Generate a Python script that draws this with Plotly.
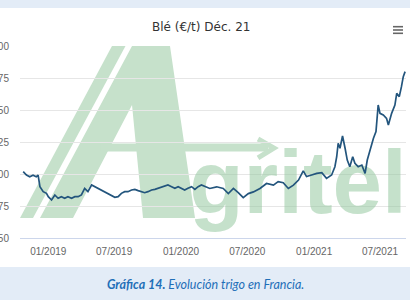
import plotly.graph_objects as go
import pandas as pd

# ---------------- data ----------------
dates = [
    "2018-10-24", "2018-11-02", "2018-11-11", "2018-11-20", "2018-11-29", "2018-12-04",
    "2018-12-09", "2018-12-18", "2018-12-27", "2019-01-01", "2019-01-10", "2019-01-19",
    "2019-01-28", "2019-02-06", "2019-02-15", "2019-02-24", "2019-03-06", "2019-03-15",
    "2019-03-24", "2019-04-02", "2019-04-11", "2019-04-20", "2019-04-30", "2019-05-09",
    "2019-05-18", "2019-05-27", "2019-06-05", "2019-06-14", "2019-06-23", "2019-07-03",
    "2019-07-12", "2019-07-21", "2019-07-30", "2019-08-08", "2019-08-18", "2019-08-27",
    "2019-09-05", "2019-09-14", "2019-09-23", "2019-10-02", "2019-10-12", "2019-10-21",
    "2019-10-30", "2019-11-08", "2019-11-17", "2019-11-26", "2019-12-06", "2019-12-15",
    "2019-12-24", "2020-01-02", "2020-01-11", "2020-01-20", "2020-01-30", "2020-02-08",
    "2020-02-17", "2020-02-26", "2020-03-20", "2020-04-08", "2020-04-26", "2020-05-10",
    "2020-05-24", "2020-06-07", "2020-06-20", "2020-07-04", "2020-07-18", "2020-08-05",
    "2020-08-23", "2020-09-11", "2020-09-24", "2020-10-08", "2020-10-22", "2020-11-05",
    "2020-11-19", "2020-12-02", "2020-12-11", "2020-12-25", "2021-01-08", "2021-01-22",
    "2021-02-04", "2021-02-18", "2021-02-27", "2021-03-04", "2021-03-08", "2021-03-13",
    "2021-03-20", "2021-03-27", "2021-04-02", "2021-04-09", "2021-04-17", "2021-04-23",
    "2021-05-02", "2021-05-12", "2021-05-21", "2021-05-27", "2021-06-03", "2021-06-13",
    "2021-06-20", "2021-06-26", "2021-07-01", "2021-07-10", "2021-07-19", "2021-07-24",
    "2021-08-02", "2021-08-11", "2021-08-16", "2021-08-23", "2021-08-29", "2021-09-03",
    "2021-09-08",
]
prices = [
    201.8, 199.2, 197.9, 199.0, 197.9, 199.2,
    190.1, 186.2, 184.9, 182.3, 179.7, 183.6,
    181.0, 182.3, 181.0, 182.3, 181.0, 182.3,
    182.3, 183.6, 188.8, 186.2, 191.4, 190.1,
    188.8, 187.5, 186.2, 184.9, 183.6, 181.8,
    182.3, 184.9, 186.2, 186.2, 187.5, 188.0,
    187.0, 186.2, 185.4, 186.2, 187.5, 188.0,
    188.8, 190.1, 190.6, 191.4, 190.1, 188.8,
    190.1, 188.8, 187.5, 188.8, 190.1, 188.0,
    190.1, 191.4, 188.7, 190.0, 188.7, 184.7,
    188.7, 185.3, 181.6, 184.7, 186.0, 188.7,
    192.6, 191.3, 194.0, 193.2, 188.7, 191.3,
    195.3, 202.5, 198.0, 199.2, 200.5, 201.0,
    196.6, 199.2, 205.7, 213.5, 224.0, 220.1,
    229.7, 220.1, 210.9, 205.7, 213.5, 208.3,
    205.7, 207.0, 200.5, 210.9, 218.8, 227.9,
    233.1, 253.9, 247.4, 246.1, 243.5, 238.3,
    247.4, 253.9, 263.0, 260.4, 268.2, 276.0,
    280.0,
]

y_ticks = [150, 175, 200, 225, 250, 275, 300]
x_tick_vals = ["2019-01-01", "2019-07-01", "2020-01-01", "2020-07-01", "2021-01-01", "2021-07-01"]
x_tick_text = ["01/2019", "07/2019", "01/2020", "07/2020", "01/2021", "07/2021"]

title_text = "Blé (€/t) Déc. 21"
caption_bold = "Gráfica 14."
caption_rest = " Evolución trigo en Francia."
watermark_text = "gritel"

# ---------------- geometry helpers (pixel -> paper / axis) ----------------
W, H = 410, 300
PL, PR, PT, PB = 20, 406, 46, 238          # plot area in pixels
X_RANGE = ["2018-10-15 05:00", "2021-09-10 12:00"]
Y_RANGE = [150, 300]


def fx(x):
    return (x - PL) / (PR - PL)


def fy(y):
    return (PB - y) / (PB - PT)


def path(points):
    return "M " + " L ".join(f"{fx(x):.4f},{fy(y):.4f}" for x, y in points) + " Z"


def px_to_date(x):
    t0, t1 = pd.Timestamp(X_RANGE[0]), pd.Timestamp(X_RANGE[1])
    return t0 + (t1 - t0) * ((x - PL) / (PR - PL))


def px_to_val(y):
    return Y_RANGE[0] + (PB - y) / (PB - PT) * (Y_RANGE[1] - Y_RANGE[0])


GREEN = "#c6e1cb"
BAND = "#e3ecf7"

shapes = [
    # light blue bands top & bottom
    dict(type="rect", xref="paper", yref="paper", x0=fx(-5), x1=fx(W + 5), y0=fy(-5), y1=fy(8),
         fillcolor=BAND, line_width=0, layer="below"),
    dict(type="rect", xref="paper", yref="paper", x0=fx(-5), x1=fx(W + 5), y0=fy(267), y1=fy(H + 5),
         fillcolor=BAND, line_width=0, layer="below"),
    # watermark: outer stripe
    dict(type="path", xref="paper", yref="paper", layer="below", line_width=0, fillcolor=GREEN,
         path=path([(20, 218), (33, 218), (125.5, 46), (112, 46)])),
    # watermark: big A with inner counter
    dict(type="path", xref="paper", yref="paper", layer="below", line_width=0, fillcolor=GREEN,
         path=path([(40, 218), (132, 46), (170, 46), (195, 218), (143, 218), (132, 105), (73, 218)])),
    # arrow bar (crossbar)
    dict(type="path", xref="paper", yref="paper", layer="below", line_width=0, fillcolor=GREEN,
         path=path([(100, 143.5), (268, 143.5), (268, 151.5), (100, 151.5)])),
    # arrow head
    dict(type="path", xref="paper", yref="paper", layer="below", fillcolor="rgba(0,0,0,0)",
         line=dict(color=GREEN, width=5),
         path="M {:.4f},{:.4f} L {:.4f},{:.4f} L {:.4f},{:.4f}".format(
             fx(258), fy(139), fx(274), fy(148), fx(258), fy(158))),
]

# hamburger menu icon
for yy in (26.7, 30.0, 33.3):
    shapes.append(dict(type="line", xref="paper", yref="paper", x0=fx(393), x1=fx(403),
                       y0=fy(yy), y1=fy(yy), line=dict(color="#666666", width=1.6)))

fig = go.Figure()

# watermark letters (drawn below the price line)
fig.add_trace(go.Scatter(
    x=[px_to_date(298)], y=[px_to_val(191)], mode="text", text=[watermark_text],
    textfont=dict(family="Liberation Sans", size=89, weight="bold", color="rgba(139,195,151,0.5)"),
    textposition="middle center", hoverinfo="skip", showlegend=False,
))

fig.add_trace(go.Scatter(
    x=dates, y=prices, mode="lines",
    line=dict(color="#23557d", width=1.7),
    showlegend=False, hoverinfo="x+y",
))

fig.update_layout(
    width=W, height=H,
    margin=dict(l=PL, r=W - PR, t=PT, b=H - PB, pad=0),
    paper_bgcolor="white", plot_bgcolor="white",
    shapes=shapes,
    showlegend=False,
    annotations=[
        dict(text=title_text, xref="paper", yref="paper", x=fx(200.5), y=fy(27),
             xanchor="center", yanchor="middle", showarrow=False,
             font=dict(family="DejaVu Sans", size=12, color="#333333")),
        dict(text=f"<b><i>{caption_bold}</i></b><i>{caption_rest}</i>", xref="paper", yref="paper",
             x=fx(205), y=fy(284), xanchor="center", yanchor="middle", showarrow=False,
             font=dict(family="Lato", size=12.5, color="#1f6fb8")),
    ],
    xaxis=dict(
        type="date", range=X_RANGE, tickvals=x_tick_vals, ticktext=x_tick_text,
        showgrid=False, zeroline=False, showline=True, linecolor="#ccd6eb", linewidth=1,
        ticks="", tickfont=dict(family="Liberation Sans", size=10, color="#666666"),
        ticklabelstandoff=4, automargin=False,
    ),
    yaxis=dict(
        range=Y_RANGE, tickvals=y_ticks, showgrid=True, gridcolor="#e6e6e6", gridwidth=1,
        zeroline=False, showline=False, ticks="",
        tickfont=dict(family="Liberation Sans", size=10, color="#666666"),
        ticklabelstandoff=10, automargin=False,
    ),
)

fig.write_html("out.html", config={"displayModeBar": False})
